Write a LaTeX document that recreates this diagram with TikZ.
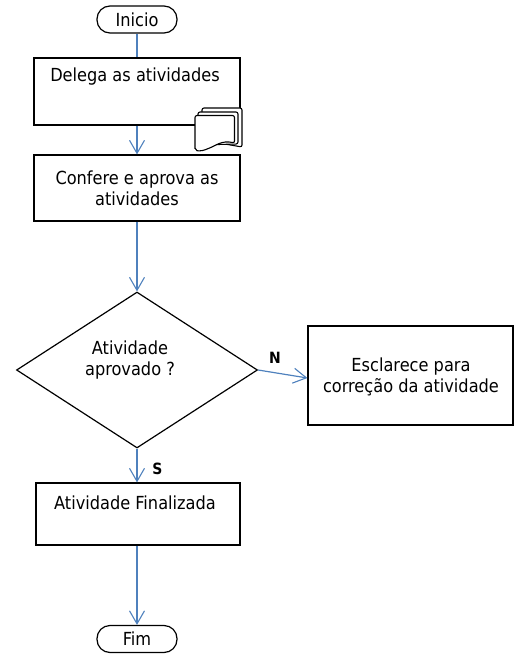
\documentclass[tikz,border=0pt]{standalone}
\usepackage{fontspec}
\setmainfont{DejaVu Sans Condensed}
\usetikzlibrary{arrows.meta,shapes.geometric}
\definecolor{flowblue}{RGB}{79,129,189}
\tikzset{
  boxnode/.style={draw=black,line width=1.2pt,minimum width=206pt,inner sep=0pt},
  termnode/.style={draw=black,line width=1.2pt,rounded corners=13pt,minimum width=80pt,minimum height=27pt,inner sep=0pt,font=\fontsize{18}{21}\selectfont},
  txt/.style={align=center,inner sep=0pt,font=\fontsize{18}{21}\selectfont},
  lbl/.style={inner sep=0pt,font=\fontsize{15.5}{17}\selectfont\bfseries},
  flow/.style={draw=flowblue,line width=1.2pt,-{Straight Barb[length=13pt,width=15pt,line width=1.1pt]}},
  flowplain/.style={draw=flowblue,line width=1.2pt},
  docsheet/.style={draw=black,line width=1.1pt,fill=white,rounded corners=2pt}
}
\begin{document}
\begin{tikzpicture}[x=1pt,y=-1pt]
\useasboundingbox (0,0) rectangle (515,655);
% nodes
\node[termnode] (start) at (137,19.5) {Inicio};
\node[boxnode,minimum height=67pt] (b1) at (137,91.5) {};
\node[txt] (b1t) at (135,77) {Delega as atividades};
\node[boxnode,minimum height=66pt] (b2) at (137,188) {};
\node[txt] (b2t) at (137,188.5) {Confere e aprova as\\atividades};
\node[draw=black,line width=1.2pt,diamond,minimum width=241pt,minimum height=156pt,inner sep=0pt] (d) at (137,370) {};
\node[txt] (dt) at (130,360.5) {Atividade\\aprovado ?};
\node[boxnode,minimum width=205pt,minimum height=99pt] (b3) at (410.5,375.5) {};
\node[txt] (b3t) at (411,377) {Esclarece para\\correção da atividade};
\node[boxnode,minimum width=204pt,minimum height=62pt] (b4) at (138,514) {};
\node[txt] (b4t) at (135,503) {Atividade Finalizada};
\node[termnode] (fim) at (137,639) {Fim};
% document stack icon
\draw[docsheet] (242,147) -- (242,108) -- (202,108) -- (202,140) -- cycle;
\draw[docsheet] (238,144) -- (238,112) -- (198,112) -- (198,145) -- cycle;
\draw[docsheet] (195,150) -- (195,115.5) -- (234.5,115.5) -- (234.5,143)
  .. controls (222,140) and (215,146) .. (207,149) .. controls (202,151) and (198,151) .. (195,150) -- cycle;
% connectors
\draw[flowplain] (start.south) -- (start.south |- b1.north);
\draw[flow] (b1.south) -- (b1.south |- b2.north);
\draw[flow] (b2.south) -- (b2.south |- d.north);
\draw[flow] (d.east) -- (b3.west |- 0,378) coordinate (n3);
\draw[flow] (d.south) -- (d.south |- b4.north);
\draw[flow] (fim.north |- b4.south) -- (fim.north);
\node[lbl] (nlab) at (275,357.5) {N};
\node[lbl] (slab) at (157.5,469) {S};
\end{tikzpicture}
\end{document}
